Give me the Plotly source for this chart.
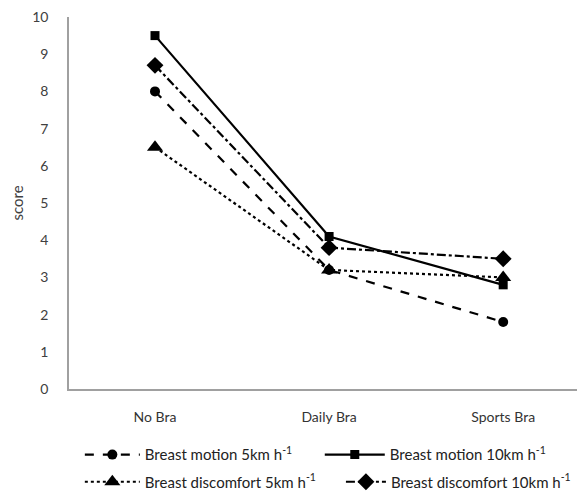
import plotly.graph_objects as go

categories = ["No Bra", "Daily Bra", "Sports Bra"]
motion_5 = [8.0, 3.2, 1.8]
motion_10 = [9.5, 4.1, 2.8]
discomfort_5 = [6.5, 3.2, 3.0]
discomfort_10 = [8.7, 3.8, 3.5]

series = [
    ("Breast motion 5km h<sup>-1</sup>", motion_5, "dash", "circle", 10, "legend"),
    ("Breast motion 10km h<sup>-1</sup>", motion_10, "solid", "square", 9, "legend2"),
    ("Breast discomfort 5km h<sup>-1</sup>", discomfort_5, "dot", "triangle-up", 14, "legend3"),
    ("Breast discomfort 10km h<sup>-1</sup>", discomfort_10, "dashdot", "diamond", 13, "legend4"),
]

fig = go.Figure()
for name, vals, dash, sym, sz, lg in series:
    fig.add_trace(go.Scatter(
        x=categories, y=vals, name=name, mode="lines+markers",
        line=dict(color="black", width=2.2, dash=dash),
        marker=dict(symbol=sym, size=sz, color="black"),
        legend=lg,
    ))

leg_common = dict(
    orientation="h", xanchor="left", yanchor="middle",
    font=dict(family="Lato", size=15, color="#222222"),
    bgcolor="rgba(0,0,0,0)",
)

fig.update_layout(
    width=577, height=491,
    margin=dict(l=61, r=0, t=9, b=110, autoexpand=False),
    plot_bgcolor="white", paper_bgcolor="white",
    font=dict(family="Lato", size=14, color="#404040"),
    showlegend=True,
    legend=dict(leg_common, x=0.021, y=-0.177, itemwidth=55),
    legend2=dict(leg_common, x=0.486, y=-0.177, itemwidth=60),
    legend3=dict(leg_common, x=0.021, y=-0.25, itemwidth=55),
    legend4=dict(leg_common, x=0.527, y=-0.25, itemwidth=40),
    xaxis=dict(
        type="category", range=[-0.494, 2.47],
        showline=True, linecolor="#a0a0a0", linewidth=1.5,
        showgrid=False, ticks="", tickfont=dict(size=14, color="#333333"),
        ticklabelstandoff=14,
    ),
    yaxis=dict(
        range=[0, 10], dtick=1,
        showline=True, linecolor="#a0a0a0", linewidth=1.5,
        showgrid=False, ticks="", zeroline=False,
        tickfont=dict(size=14, color="#404040"),
        ticklabelstandoff=16, ticklabeloverflow="allow",
        title=dict(text="score", font=dict(size=15, color="#404040"), standoff=12),
    ),
)

fig.write_html("out.html")
